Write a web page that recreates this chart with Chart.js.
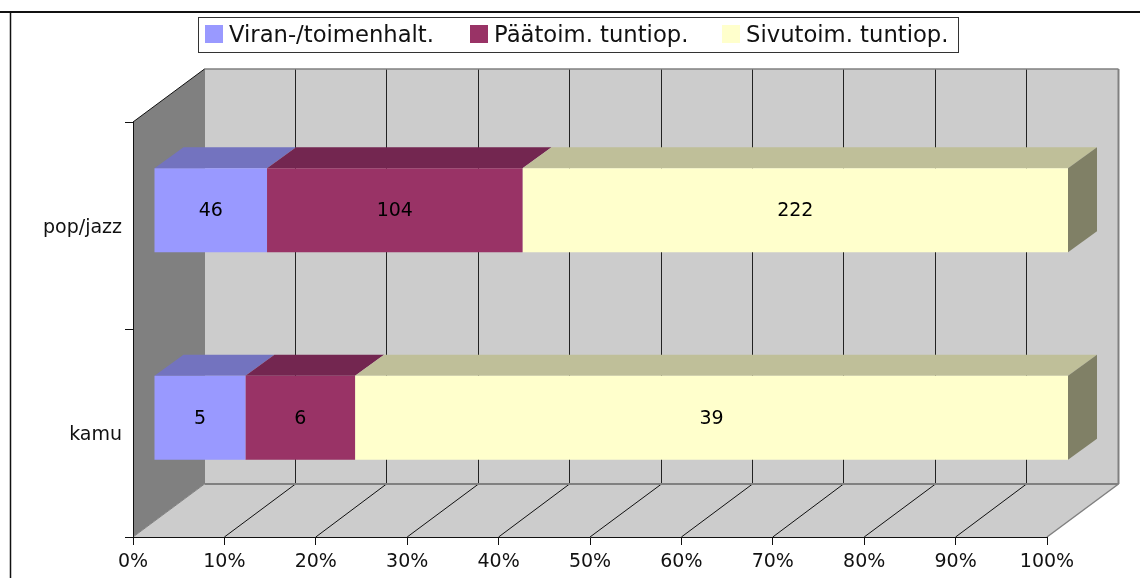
<!DOCTYPE html>
<html>
<head>
<meta charset="utf-8">
<style>
  html, body { margin: 0; padding: 0; background: #fff; }
  #wrap { width: 1140px; height: 578px; }
</style>
<script src="https://cdn.jsdelivr.net/npm/chart.js@4"></script>
</head>
<body>
<div id="wrap"><canvas id="chart" width="1140" height="578"></canvas></div>
<script>
var categories = ["pop/jazz", "kamu"];
var seriesNames = ["Viran-/toimenhalt.", "Päätoim. tuntiop.", "Sivutoim. tuntiop."];
var viranCounts = [46, 5];
var paatoimCounts = [104, 6];
var sivutoimCounts = [222, 39];
var xTicks = [0, 10, 20, 30, 40, 50, 60, 70, 80, 90, 100];

var FONT = '"DejaVu Sans", Verdana, sans-serif';
var frontColors = ["#9999ff", "#993366", "#ffffcc"];
var topColors = ["#7373bf", "#732650", "#bfbf99"];
var sideColor = "#808066";

// depth of the box and of the bars, in pixels
var WALL_DX = 71.5, WALL_DY = -53;
var BAR_DX = 21, BAR_DY = -15.5;
var BAR_TOP_DX = 29, BAR_TOP_DY = -21;

function share(counts, i) {
    var total = viranCounts[i] + paatoimCounts[i] + sivutoimCounts[i];
    return counts[i] / total * 100;
}
function shares(counts) {
    return counts.map(function(c, i) { return share(counts, i); });
}

function poly(ctx, pts, fill, stroke, width) {
    ctx.beginPath();
    ctx.moveTo(pts[0][0], pts[0][1]);
    for (var i = 1; i < pts.length; i++) ctx.lineTo(pts[i][0], pts[i][1]);
    ctx.closePath();
    if (fill) { ctx.fillStyle = fill; ctx.fill(); }
    if (stroke) { ctx.strokeStyle = stroke; ctx.lineWidth = width || 1; ctx.stroke(); }
}
function line(ctx, x1, y1, x2, y2, color, width) {
    ctx.beginPath();
    ctx.moveTo(x1, y1);
    ctx.lineTo(x2, y2);
    ctx.strokeStyle = color;
    ctx.lineWidth = width || 1;
    ctx.stroke();
}

// frame, back wall, side wall and floor
var boxPlugin = {
    id: "box",
    beforeDraw: function(chart) {
        var ctx = chart.ctx, a = chart.chartArea, sx = chart.scales.x;
        var l = a.left, r = a.right, t = a.top, b = a.bottom;
        ctx.save();
        line(ctx, 0, 12, 1140, 12, "#111", 2);
        line(ctx, 10.5, 12, 10.5, 578, "#111", 1.5);

        poly(ctx, [[l + WALL_DX, t + WALL_DY], [r + WALL_DX, t + WALL_DY], [r + WALL_DX, b + WALL_DY], [l + WALL_DX, b + WALL_DY]], "#cccccc");
        poly(ctx, [[l, t], [l + WALL_DX, t + WALL_DY], [l + WALL_DX, b + WALL_DY], [l, b]], "#808080");
        poly(ctx, [[l, b], [r, b], [r + WALL_DX, b + WALL_DY], [l + WALL_DX, b + WALL_DY]], "#cccccc");

        xTicks.slice(1, -1).forEach(function(v) {
            var x = sx.getPixelForValue(v);
            var wx = Math.round(x + WALL_DX) - 0.5;
            line(ctx, wx, t + WALL_DY, wx, b + WALL_DY, "#222", 1);
            line(ctx, x, b, wx, b + WALL_DY, "#111", 1);
        });

        line(ctx, l + WALL_DX, t + WALL_DY, r + WALL_DX, t + WALL_DY, "#808080", 1.5);
        line(ctx, r + WALL_DX, t + WALL_DY, r + WALL_DX, b + WALL_DY, "#808080", 2);
        line(ctx, l + WALL_DX, t + WALL_DY, l + WALL_DX, b + WALL_DY, "#808080", 1);
        line(ctx, l + WALL_DX, b + WALL_DY, r + WALL_DX, b + WALL_DY, "#808080", 2);
        line(ctx, r, b, r + WALL_DX, b + WALL_DY, "#808080", 1.5);
        line(ctx, l, t, l + WALL_DX, t + WALL_DY, "#111", 1);
        line(ctx, l, b, l + WALL_DX, b + WALL_DY, "#808080", 1);
        ctx.restore();
    },
    // top and side faces of the bars, then the front faces shifted into the box
    beforeDatasetsDraw: function(chart) {
        var ctx = chart.ctx;
        ctx.save();
        chart.data.datasets.forEach(function(ds, d) {
            chart.getDatasetMeta(d).data.forEach(function(bar) {
                var p = bar.getProps(["x", "y", "base", "height"], true);
                var x0 = p.base + BAR_DX, x1 = p.x + BAR_DX;
                var y0 = p.y - p.height / 2 + BAR_DY, y1 = p.y + p.height / 2 + BAR_DY;
                poly(ctx, [[x0, y0], [x1, y0], [x1 + BAR_TOP_DX, y0 + BAR_TOP_DY], [x0 + BAR_TOP_DX, y0 + BAR_TOP_DY]], topColors[d]);
                if (d === chart.data.datasets.length - 1) {
                    poly(ctx, [[x1, y0], [x1 + BAR_TOP_DX, y0 + BAR_TOP_DY], [x1 + BAR_TOP_DX, y1 + BAR_TOP_DY], [x1, y1]], sideColor);
                }
            });
        });
        ctx.restore();
    },
    beforeDatasetDraw: function(chart) {
        chart.ctx.save();
        chart.ctx.translate(BAR_DX, BAR_DY);
    },
    afterDatasetDraw: function(chart) {
        chart.ctx.restore();
    },
    // count labels and the legend
    afterDraw: function(chart) {
        var ctx = chart.ctx;
        var counts = [viranCounts, paatoimCounts, sivutoimCounts];
        ctx.save();
        ctx.font = "19px " + FONT;
        ctx.fillStyle = "#000";
        ctx.textAlign = "center";
        ctx.textBaseline = "middle";
        chart.data.datasets.forEach(function(ds, d) {
            chart.getDatasetMeta(d).data.forEach(function(bar, i) {
                var p = bar.getProps(["x", "y", "base"], true);
                ctx.fillText(counts[d][i], (p.base + p.x) / 2 + BAR_DX, p.y + BAR_DY + 1);
            });
        });

        ctx.fillStyle = "#fff";
        ctx.fillRect(198.5, 17.5, 760, 35);
        ctx.strokeStyle = "#333";
        ctx.lineWidth = 1;
        ctx.strokeRect(198.5, 17.5, 760, 35);
        ctx.font = "22.7px " + FONT;
        ctx.textAlign = "left";
        var swatchX = [205, 470, 722];
        seriesNames.forEach(function(name, s) {
            ctx.fillStyle = frontColors[s];
            ctx.fillRect(swatchX[s], 25, 18, 18);
            ctx.fillStyle = "#111";
            ctx.fillText(name, swatchX[s] + 24, 36);
        });
        ctx.restore();
    }
};

new Chart(document.getElementById("chart"), {
    type: "bar",
    data: {
        labels: categories,
        datasets: [
            { label: seriesNames[0], data: shares(viranCounts), backgroundColor: frontColors[0] },
            { label: seriesNames[1], data: shares(paatoimCounts), backgroundColor: frontColors[1] },
            { label: seriesNames[2], data: shares(sivutoimCounts), backgroundColor: frontColors[2] }
        ]
    },
    options: {
        indexAxis: "y",
        responsive: false,
        animation: false,
        clip: false,
        barPercentage: 84 / 207.5,
        categoryPercentage: 1,
        layout: { padding: { top: 122, right: 93, left: 0, bottom: 0 } },
        plugins: { legend: { display: false }, tooltip: { enabled: false } },
        scales: {
            x: {
                stacked: true,
                min: 0,
                max: 100,
                afterBuildTicks: function(axis) {
                    axis.ticks = xTicks.map(function(v) { return { value: v }; });
                },
                afterFit: function(axis) { axis.height = 41; },
                grid: { drawOnChartArea: false, tickLength: 8, color: "#111", tickColor: "#111" },
                border: { color: "#111" },
                ticks: {
                    maxRotation: 0,
                    autoSkip: false,
                    padding: 6,
                    color: "#111",
                    font: { family: FONT, size: 19 },
                    callback: function(v) { return v + "%"; }
                }
            },
            y: {
                stacked: true,
                afterFit: function(axis) { axis.width = 133; },
                grid: { drawOnChartArea: false, tickLength: 8, color: "#111", tickColor: "#111" },
                border: { color: "#111" },
                ticks: { padding: 3, labelOffset: 2, color: "#111", font: { family: FONT, size: 19 } }
            }
        }
    },
    plugins: [boxPlugin]
});
</script>
</body>
</html>
